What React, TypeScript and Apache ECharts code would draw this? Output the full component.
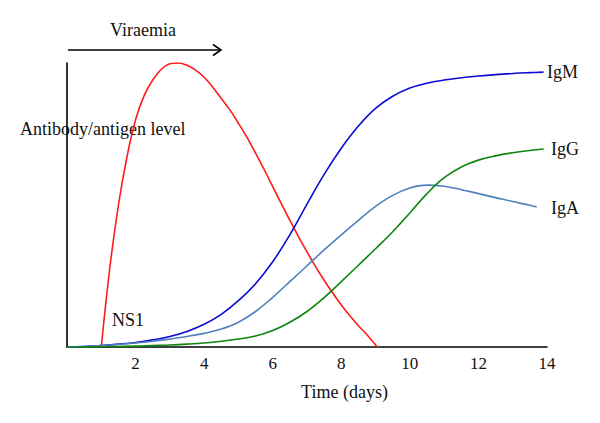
import React, { useEffect, useRef } from "react";
import * as echarts from "echarts";

const xTicks = [2, 4, 6, 8, 10, 12, 14];

const ns1: [number, number][] = [
  [1.0, 0], [1.25, 28], [1.5, 50], [1.75, 67], [2, 80], [2.25, 88.5], [2.5, 94],
  [2.75, 97.8], [3, 99.7], [3.25, 100], [3.5, 99.2], [3.75, 97.5], [4, 95], [4.25, 91.5],
  [4.5, 87.5], [4.75, 83.5], [5, 78.8], [5.25, 73.8], [5.5, 68.3], [5.75, 62.5], [6, 56.5],
  [6.25, 50.5], [6.5, 44.6], [6.75, 38.9], [7, 33.5], [7.25, 28.3], [7.5, 23.5], [7.75, 19],
  [8, 14.8], [8.25, 11], [8.5, 7.5], [8.75, 4.3], [9.05, 0],
];

const igm: [number, number][] = [
  [0, 0], [0.5, 0.2], [1, 0.5], [1.5, 1], [2, 1.6], [2.5, 2.5], [3, 3.7], [3.5, 5.5],
  [4, 8], [4.5, 11.5], [5, 16.3], [5.5, 22.3], [6, 30], [6.5, 39.5], [7, 50.3], [7.5, 60.8],
  [8, 70], [8.5, 77.8], [9, 84], [9.5, 88.3], [10, 91.2], [10.5, 92.9], [11, 94], [11.5, 94.8],
  [12, 95.4], [12.5, 95.9], [13, 96.3], [13.5, 96.6], [13.9, 96.8],
];

const iga: [number, number][] = [
  [0, 0], [0.5, 0.2], [1, 0.5], [1.5, 0.9], [2, 1.4], [2.5, 2], [3, 2.8], [3.5, 3.7],
  [4, 4.8], [4.5, 6.3], [5, 8.7], [5.5, 12.5], [6, 17.5], [6.5, 23], [7, 28.6], [7.5, 34.2],
  [8, 39.5], [8.5, 44.6], [9, 49.5], [9.5, 53.4], [10, 56], [10.5, 57], [11, 56.6],
  [11.5, 55.4], [12, 54], [12.5, 52.6], [13, 51.2], [13.5, 49.9], [13.7, 49.3],
];

const igg: [number, number][] = [
  [0, 0], [0.5, 0], [1, 0.1], [1.5, 0.2], [2, 0.3], [2.5, 0.5], [3, 0.7], [3.5, 1], [4, 1.4],
  [4.5, 2], [5, 2.8], [5.5, 3.9], [6, 5.8], [6.5, 8.7], [7, 12.5], [7.5, 17.4], [8, 23],
  [8.5, 28.8], [9, 34.6], [9.5, 40.6], [10, 47.2], [10.5, 54], [11, 59.6], [11.5, 63.4],
  [12, 65.8], [12.5, 67.3], [13, 68.4], [13.5, 69.2], [13.9, 69.7],
];

const FONT = "Liberation Serif, DejaVu Serif, serif";

export default function App() {
  const ref = useRef<HTMLDivElement>(null);
  useEffect(() => {
    if (!ref.current) return;
    const chart = echarts.init(ref.current, undefined, { renderer: "svg" });
    const line = (name: string, data: [number, number][], color: string) => ({
      name,
      type: "line",
      data,
      smooth: 0.4,
      showSymbol: false,
      symbol: "none",
      lineStyle: { color, width: 1.6 },
      z: 3,
    });
    const txt = (text: string, x: number, y: number, align = "left") => ({
      type: "text",
      style: {
        text,
        x,
        y,
        font: `18px ${FONT}`,
        fill: "#111",
        textAlign: align,
        textVerticalAlign: "middle",
      },
    });
    chart.setOption({
      animation: false,
      backgroundColor: "#fff",
      textStyle: { fontFamily: FONT },
      grid: { left: 67, right: 53, top: 63, bottom: 76 },
      xAxis: {
        type: "value",
        min: 0,
        max: 14,
        interval: 2,
        axisLine: { show: true, onZero: false, lineStyle: { color: "#000", width: 1.6 } },
        axisTick: { show: false },
        splitLine: { show: false },
        axisLabel: {
          margin: 8,
          fontSize: 17,
          fontFamily: FONT,
          color: "#111",
          formatter: (v: number) => (xTicks.includes(v) ? String(v) : ""),
        },
      },
      yAxis: {
        type: "value",
        min: 0,
        max: 100,
        axisLine: { show: true, onZero: false, lineStyle: { color: "#000", width: 1.6 } },
        axisTick: { show: false },
        splitLine: { show: false },
        axisLabel: { show: false },
      },
      series: [
        line("NS1", ns1, "#ff1a1a"),
        line("IgM", igm, "#0a0ad6"),
        line("IgA", iga, "#4f80bd"),
        line("IgG", igg, "#0d850d"),
      ],
      graphic: [
        txt("Viraemia", 143, 29.5, "center"),
        {
          type: "line",
          shape: { x1: 68, y1: 50, x2: 221, y2: 50 },
          style: { stroke: "#000", lineWidth: 1.6 },
        },
        {
          type: "polyline",
          shape: { points: [[213, 44.5], [221, 50], [213, 55.5]] },
          style: { stroke: "#000", lineWidth: 1.6, fill: "none" },
        },
        txt("Antibody/antigen level", 20, 128.5),
        txt("NS1", 112, 319.5),
        txt("IgM", 547, 72),
        txt("IgG", 551, 148.5),
        txt("IgA", 551, 207.5),
        txt("Time (days)", 344.5, 391.5, "center"),
      ],
    });
    return () => chart.dispose();
  }, []);
  return <div ref={ref} style={{ width: 600, height: 423, position: "absolute", left: 0, top: 0 }} />;
}
